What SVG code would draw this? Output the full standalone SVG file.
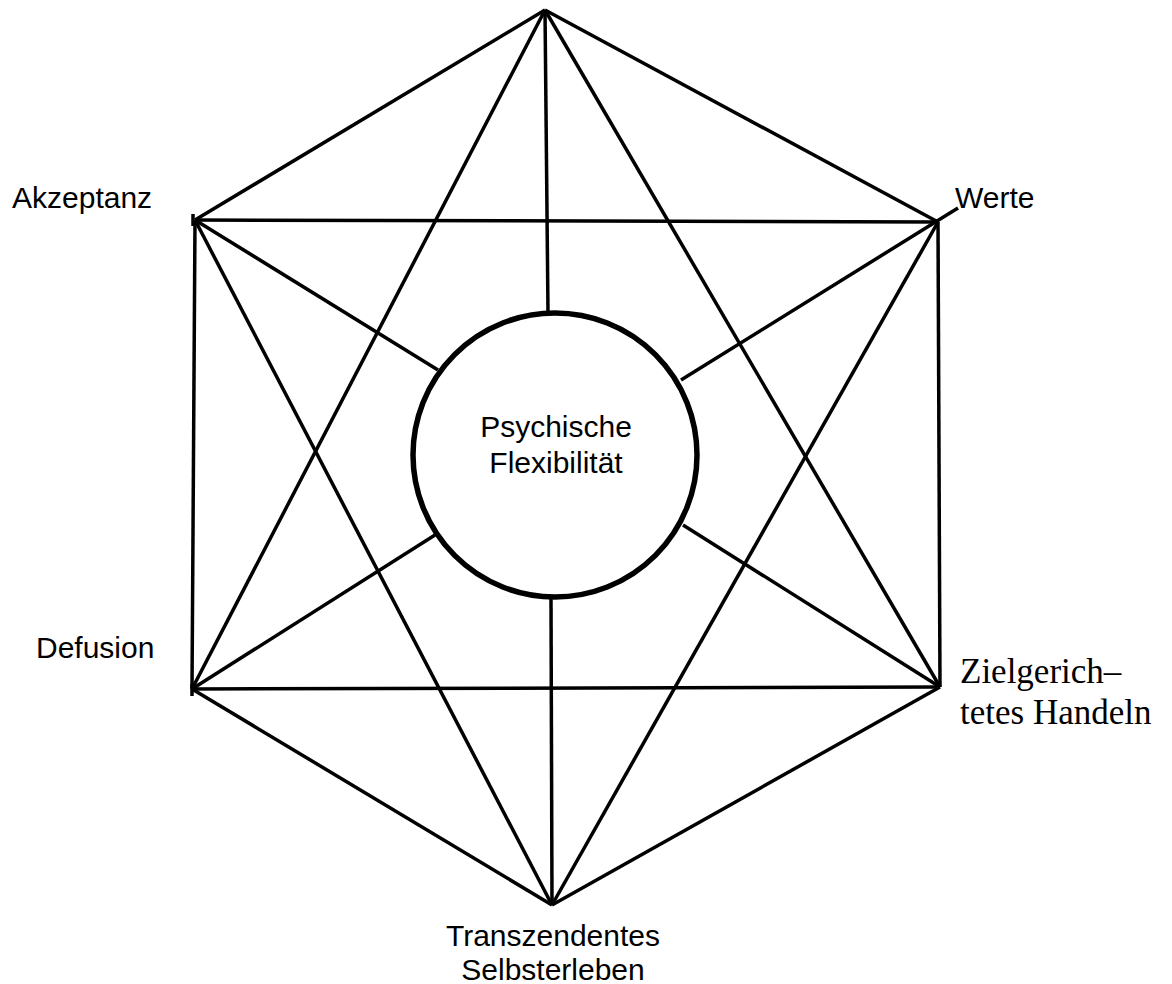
<svg xmlns="http://www.w3.org/2000/svg" width="1172" height="984" viewBox="0 0 1172 984">
<style>
.l{stroke:#000;stroke-width:3.5;fill:none;stroke-linecap:butt}
.s{font-family:"Liberation Sans",Arial,sans-serif;font-size:30px;fill:#000}
.t{font-family:"Liberation Serif","Times New Roman",serif;font-size:35px;fill:#000}
</style>
<rect width="1172" height="984" fill="#fff"/>
<g id="connectors">
<line class="l" x1="545" y1="10" x2="195" y2="220"/>
<line class="l" x1="545" y1="10" x2="938" y2="222"/>
<line class="l" x1="195" y1="220" x2="192" y2="689"/>
<line class="l" x1="938" y1="222" x2="940" y2="687"/>
<line class="l" x1="192" y1="689" x2="552" y2="905"/>
<line class="l" x1="940" y1="687" x2="552" y2="905"/>
<line class="l" x1="545" y1="10" x2="192" y2="689"/>
<line class="l" x1="545" y1="10" x2="940" y2="687"/>
<line class="l" x1="192" y1="689" x2="940" y2="687"/>
<line class="l" x1="195" y1="220" x2="938" y2="222"/>
<line class="l" x1="195" y1="220" x2="552" y2="905"/>
<line class="l" x1="938" y1="222" x2="552" y2="905"/>
<line class="l" x1="545" y1="10" x2="548" y2="313"/>
<line class="l" x1="195" y1="220" x2="438" y2="370"/>
<line class="l" x1="958" y1="208" x2="681" y2="380"/>
<line class="l" x1="192" y1="689" x2="435" y2="535"/>
<line class="l" x1="940" y1="687" x2="683" y2="525"/>
<line class="l" x1="551" y1="598" x2="552" y2="905"/>
<line class="l" x1="193" y1="214" x2="193" y2="226"/>
<line class="l" x1="192" y1="684" x2="192" y2="696"/>
</g>
<g id="center">
<circle cx="555" cy="455" r="142" fill="#fff" stroke="#000" stroke-width="5.5"/>
<text class="s" x="556" y="437" text-anchor="middle">Psychische</text>
<text class="s" x="556" y="473" text-anchor="middle">Flexibilität</text>
</g>
<g id="akzeptanz"><text class="s" x="12" y="208">Akzeptanz</text></g>
<g id="werte"><text class="s" x="955" y="208">Werte</text></g>
<g id="defusion"><text class="s" x="36" y="658">Defusion</text></g>
<g id="handeln">
<text class="t" x="960" y="683">Zielgerich–</text>
<text class="t" x="960" y="724">tetes Handeln</text>
</g>
<g id="selbst">
<text class="s" x="553" y="946" text-anchor="middle">Transzendentes</text>
<text class="s" x="553" y="980" text-anchor="middle">Selbsterleben</text>
</g>
</svg>
